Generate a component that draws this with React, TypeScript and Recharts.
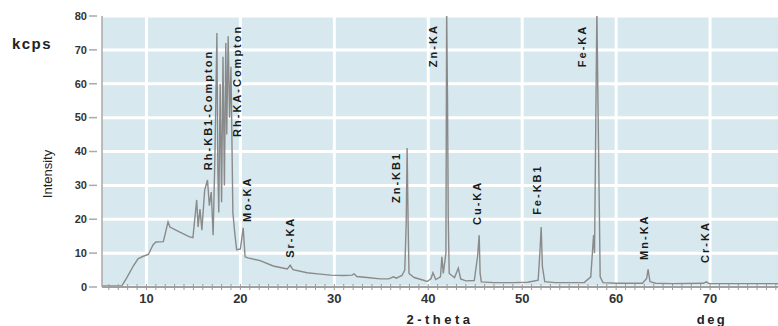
import React from 'react';
import { LineChart, Line, XAxis, YAxis, CartesianGrid, ReferenceDot } from 'recharts';

// 2-theta (deg) positions and intensities (kcps)
const twoTheta = [
  5.27, 6.5, 7.4, 7.9, 8.6, 9.1, 9.6, 10.2, 10.7, 11.0, 11.8, 12.3, 12.5, 13.5, 14.6, 14.95,
  15.35, 15.5, 15.7, 15.9, 16.2, 16.5, 16.7, 16.9, 17.1, 17.3, 17.5, 17.6, 17.7, 17.85, 18.0,
  18.15, 18.3, 18.45, 18.55, 18.7, 18.85, 19.0, 19.2, 19.4, 19.6, 20.0, 20.3, 20.5, 20.8, 22.1,
  23.5, 24.5, 25.0, 25.3, 25.6, 27.1, 28.5, 29.6, 31.0, 31.9, 32.1, 32.4, 33.5, 34.9, 35.8, 36.3,
  36.6, 37.2, 37.5, 37.65, 37.75, 37.85, 37.95, 38.5, 39.5, 39.9, 40.3, 40.5, 40.8, 41.3, 41.45,
  41.6, 41.88, 41.96, 42.05, 42.13, 42.23, 42.8, 43.2, 43.45, 44.0, 44.9, 45.25, 45.42, 45.52, 45.65,
  47.0, 49.0, 50.6, 51.7, 51.9, 52.02, 52.15, 52.4, 53.5, 56.6, 57.3, 57.6, 57.7, 57.95, 58.05,
  58.2, 58.3, 58.6, 60.0, 62.8, 63.25, 63.4, 63.6, 64.2, 66.0, 69.3, 69.6, 69.9, 72.0, 77.23,
];
const intensity = [
  0.3, 0.3, 0.4, 2.7, 6.2, 8.3, 9.0, 9.6, 12.4, 13.3, 13.4, 19.2, 17.7, 16.3, 14.8, 14.6,
  25.7, 17.7, 23.0, 16.8, 28.6, 31.6, 24.0, 28.0, 15.3, 40.0, 75.0, 35.0, 22.0, 60.0, 25.0,
  68.0, 30.0, 72.0, 45.0, 74.0, 50.0, 65.0, 22.0, 16.0, 11.0, 11.2, 17.5, 8.9, 8.6, 7.8,
  6.2, 5.6, 5.3, 6.4, 5.1, 4.2, 3.8, 3.5, 3.4, 3.5, 3.9, 3.1, 2.8, 2.4, 2.4, 3.0,
  2.6, 3.4, 5.0, 18.5, 41.0, 20.0, 4.0, 2.8, 2.0, 1.6, 2.5, 4.2, 2.2, 3.0, 8.9,
  4.0, 10.0, 82.0, 55.0, 20.0, 4.0, 2.8, 5.6, 2.4, 1.8, 1.9, 9.0, 15.3, 4.0, 1.5,
  1.3, 1.3, 1.4, 2.0, 11.0, 17.7, 6.0, 1.6, 1.3, 1.3, 3.0, 15.3, 10.0, 82.0, 58.0,
  25.0, 3.0, 1.3, 1.1, 1.1, 2.5, 5.2, 1.6, 1.1, 1.0, 1.1, 1.5, 1.0, 1.0, 1.0,
];

const yTicks = [0, 10, 20, 30, 40, 50, 60, 70, 80];
const xTicks = Array.from({ length: 72 }, (_, i) => i + 6);
const xGridValues = [10, 20, 30, 40, 50, 60, 70];

// Peak labels: name, 2-theta centre, intensity at label bottom
const peakNames = ['Rh-KB1-Compton', 'Rh-KA-Compton', 'Mo-KA', 'Sr-KA', 'Zn-KB1', 'Zn-KA', 'Cu-KA', 'Fe-KB1', 'Fe-KA', 'Mn-KA', 'Cr-KA'];
const peakX = [16.54, 19.63, 20.69, 25.27, 36.54, 40.53, 45.16, 51.54, 56.33, 62.93, 69.47];
const peakY = [34.5, 44.3, 19.2, 8.6, 24.8, 64.9, 18.3, 21.3, 64.9, 8.0, 7.1];

const spectrum = twoTheta.map((x, i) => ({ x, y: intensity[i] }));

const FONT = '"Liberation Sans", Arial, sans-serif';

const XTick = (props: any) => {
  const { x, y, payload } = props;
  const v = payload.value;
  const major = v % 10 === 0;
  return (
    <g>
      <line x1={x} x2={x} y1={y - 3} y2={y + 3} stroke="#9a9a9a" strokeWidth={1} />
      {major && (
        <text x={x} y={y + 16} textAnchor="middle" fontFamily={FONT} fontWeight="bold" fontSize={13} fill="#333">
          {v}
        </text>
      )}
    </g>
  );
};

const YTick = (props: any) => {
  const { x, y, payload } = props;
  return (
    <g>
      <line x1={x - 13} x2={x - 5} y1={y} y2={y} stroke="#aaa" strokeWidth={1.5} />
      <text x={x - 15} y={y} dy="0.35em" textAnchor="end" fontFamily={FONT} fontWeight="bold" fontSize={11} fill="#333">
        {payload.value}
      </text>
    </g>
  );
};

export default function App() {
  return (
    <div style={{ position: 'absolute', left: 0, top: 0, width: 778, height: 326, background: '#fff' }}>
      <LineChart width={778} height={326} data={spectrum} margin={{ top: 16, right: 0, bottom: 0, left: 0 }}>
        <CartesianGrid
          fill="#d7e8ee"
          fillOpacity={1}
          stroke="#ffffff"
          strokeWidth={3}
          verticalValues={xGridValues}
          horizontalValues={yTicks}
        />
        <XAxis
          type="number"
          dataKey="x"
          domain={[5.27, 77.23]}
          ticks={xTicks}
          interval={0}
          allowDataOverflow
          height={39}
          tickSize={0}
          tickMargin={0}
          tickLine={false}
          tick={<XTick />}
          axisLine={{ stroke: '#a0a0a0', strokeWidth: 2 }}
        />
        <YAxis
          type="number"
          domain={[0, 80]}
          ticks={yTicks}
          interval={0}
          allowDataOverflow
          width={102}
          tickSize={0}
          tickMargin={0}
          tickLine={false}
          tick={<YTick />}
          axisLine={{ stroke: '#a8a8a8', strokeWidth: 1.5 }}
        />
        <Line
          type="linear"
          dataKey="y"
          stroke="#8a8a8a"
          strokeWidth={1.4}
          dot={false}
          isAnimationActive={false}
        />
        {peakNames.map((name, i) => (
          <ReferenceDot
            key={name}
            x={peakX[i]}
            y={peakY[i]}
            r={0}
            ifOverflow="visible"
            shape={(p: any) => (
              <text
                transform={`translate(${p.cx},${p.cy}) rotate(-90)`}
                dominantBaseline="central"
                textAnchor="start"
                fontFamily={FONT}
                fontWeight="bold"
                fontSize={11}
                letterSpacing={2}
                fill="#1a1a1a"
              >
                {name}
              </text>
            )}
          />
        ))}
      </LineChart>
      <svg width={778} height={326} style={{ position: 'absolute', left: 0, top: 0, pointerEvents: 'none' }}>
        <text x={32} y={49} textAnchor="middle" fontFamily={FONT} fontWeight="bold" fontSize={15} letterSpacing={1.5} fill="#222">
          kcps
        </text>
        <text
          transform="translate(47,174) rotate(-90)"
          textAnchor="middle"
          dominantBaseline="central"
          fontFamily={FONT}
          fontSize={13}
          fill="#222"
        >
          Intensity
        </text>
        <text x={440} y={324} textAnchor="middle" fontFamily={FONT} fontWeight="bold" fontSize={13} letterSpacing={3.5} fill="#222">
          2-theta
        </text>
        <text x={712} y={324} textAnchor="middle" fontFamily={FONT} fontWeight="bold" fontSize={13} letterSpacing={2.5} fill="#222">
          deg
        </text>
      </svg>
    </div>
  );
}
